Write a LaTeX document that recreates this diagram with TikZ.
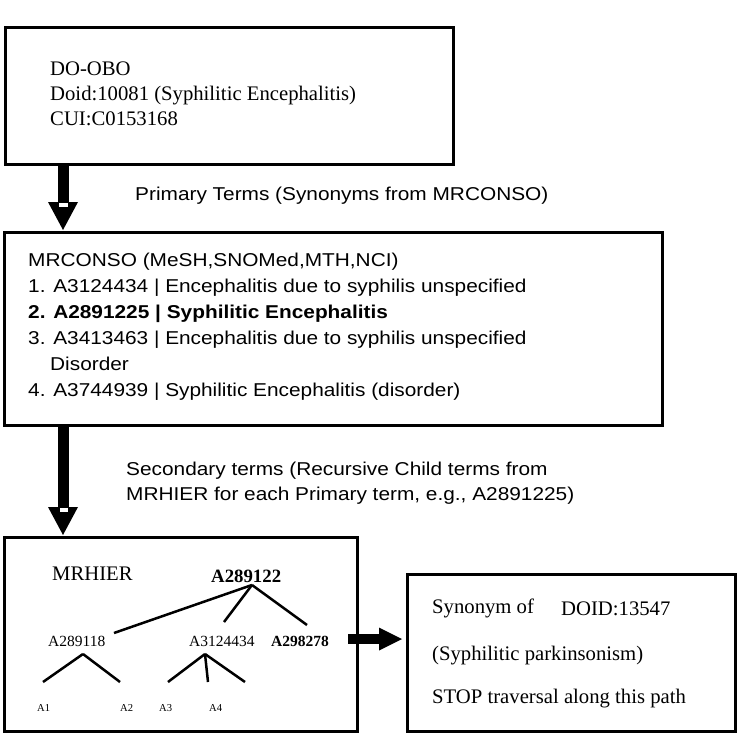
\documentclass[tikz,border=0pt]{standalone}
\usepackage{fontspec}
\setmainfont{Liberation Serif}
\setsansfont{Liberation Sans}[FakeStretch=1.12]
\usetikzlibrary{arrows.meta,calc}
\tikzset{
  box/.style = {draw, line width=3pt, outer sep=0pt, inner sep=0pt, anchor=north west},
  serif/.style = {font=\fontsize{20.7}{25}\selectfont, anchor=base west, inner sep=0pt},
  sans/.style = {font=\sffamily\fontsize{18.6}{26}\selectfont, anchor=base west, inner sep=0pt},
  leaf/.style = {font=\fontsize{15.5}{18}\selectfont, anchor=base west, inner sep=0pt},
  leafsmall/.style = {font=\fontsize{10.6}{12}\selectfont, anchor=base west, inner sep=0pt},
  treeline/.style = {line width=2.5pt},
  blockarrow/.style = {line width=11pt, -{Triangle[length=28pt,width=30pt,line width=0pt]}},
  notch/.style = {draw, fill=white, line width=1pt}
}

\begin{document}
\begin{tikzpicture}[x=1pt,y=-1pt]
  \useasboundingbox (0,0) rectangle (738,741);
  % boxes
  \node[box, minimum width=448pt, minimum height=136pt] (do)      at (5,28)    {};
  \node[box, minimum width=658pt, minimum height=193pt] (mrconso) at (4,232)   {};
  \node[box, minimum width=353pt, minimum height=194pt] (hier)    at (4,537)   {};
  \node[box, minimum width=328pt, minimum height=157pt] (stopbox) at (407,574) {};
  % DO-OBO
  \foreach \t [count=\i] in {DO-OBO, {Doid:10081 (Syphilitic Encephalitis)}, CUI:C0153168}
    \node[serif] (do\i) at (50,{51.5+24.5*\i}) {\t};
  % MRCONSO
  \foreach \x/\t [count=\i] in {28/{MRCONSO (MeSH,SNOMed,MTH,NCI)},
      28/{1. A3124434 | Encephalitis due to syphilis unspecified},
      28/{\bfseries 2. A2891225 | Syphilitic Encephalitis},
      28/{3. A3413463 | Encephalitis due to syphilis unspecified},
      50/{Disorder},
      28/{4. A3744939 | Syphilitic Encephalitis (disorder)}}
    \node[sans] (mrconso\i) at (\x,{240+26*\i}) {\t};
  % labels between boxes
  \node[sans] (primary) at (135,200) {Primary Terms (Synonyms from MRCONSO)};
  \node[sans] (secondary1) at (126,475) {Secondary terms (Recursive Child terms from};
  \node[sans] (secondary2) at (126,500) {MRHIER for each Primary term, e.g., A2891225)};
  % arrows
  \draw[blockarrow] ($(do.south west)+(58,0)$) -- ($(mrconso.north west)+(59,-2)$);
  \draw[blockarrow] ($(mrconso.south west)+(59,0)$) -- ($(hier.north west)+(59,-2)$);
  \draw[blockarrow, line width=10pt, -{Triangle[length=23pt,width=23pt,line width=0pt]}]
    ($(hier.north east)+(-9,102)$) -- ($(stopbox.north west)+(-5,65)$);
  \draw[notch] (58,202) rectangle (68,207);
  \draw[notch] (59,507) rectangle (68,512);
  % MRHIER tree
  \node[serif] (mrhier) at (52,580) {MRHIER};
  \node[serif, font=\fontsize{18.8}{22}\selectfont\bfseries] (a289122) at (211,582) {A289122};
  \node[leaf] (a289118) at (48,646) {A289118};
  \node[leaf] (a3124434) at (189,646) {A3124434};
  \node[leaf, font=\fontsize{15.5}{18}\selectfont\bfseries] (a298278) at (271,646) {A298278};
  \foreach \n/\x in {1/37, 2/120, 3/159, 4/209}
    \node[leafsmall] (a\n) at (\x,711) {A\n};
  \coordinate (root) at (252,585);
  \coordinate (sub1) at (83,654);
  \coordinate (sub2) at (205,654);
  \foreach \n/\x/\y in {l/114/633, m/224/622, r/307/625} {
    \coordinate (root\n) at (\x,\y);
    \draw[treeline] (root) -- (root\n);
  }
  \foreach \n/\x in {l/43, r/120} {
    \coordinate (sub1\n) at (\x,682);
    \draw[treeline] (sub1) -- (sub1\n);
  }
  \foreach \n/\x in {l/168, m/208, r/245} {
    \coordinate (sub2\n) at (\x,682);
    \draw[treeline] (sub2) -- (sub2\n);
  }
  % stop box
  \node[serif] (synonym) at (432,613) {Synonym of};
  \node[serif] (doid) at (561,615) {DOID:13547};
  \node[serif] (parkinson) at (432,660) {(Syphilitic parkinsonism)};
  \node[serif] (stop) at (432,703) {STOP traversal along this path};
\end{tikzpicture}
\end{document}
